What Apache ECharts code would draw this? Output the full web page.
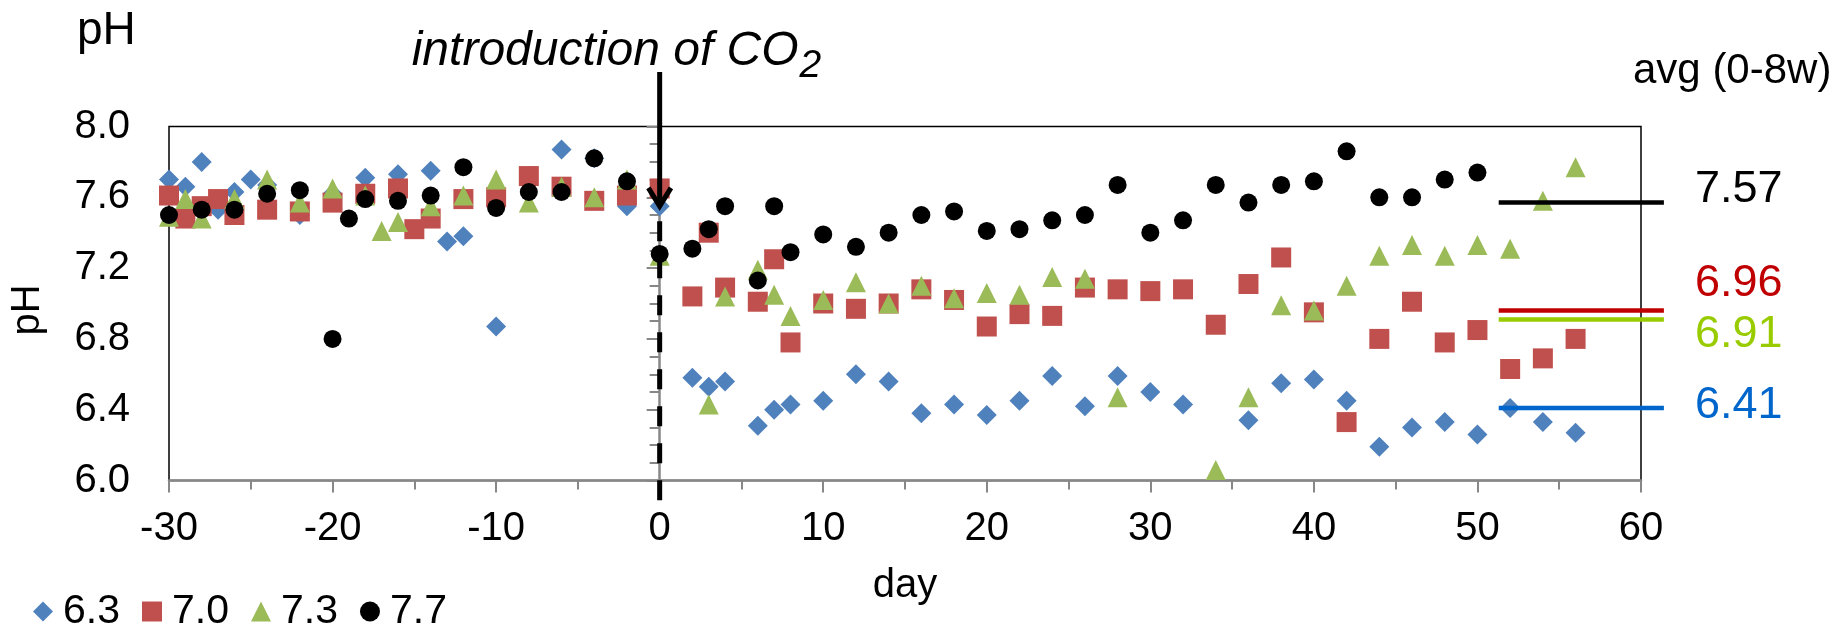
<!DOCTYPE html>
<html>
<head>
<meta charset="utf-8">
<script src="https://cdn.jsdelivr.net/npm/echarts@6/dist/echarts.min.js"></script>
<style>
  html, body { margin: 0; padding: 0; background: #fff; }
  #chart { width: 1837px; height: 625px; }
</style>
</head>
<body>
<div id="chart"></div>
<script>
// pH of the four treatments, by day relative to CO2 introduction
const names = ['6.3', '7.0', '7.3', '7.7'];

const days63 = [-30,-29,-28,-27,-26,-25,-24,-22,-20,-18,-16,-14,-13,-12,-10,-8,-6,-4,-2,0,2,3,4,6,7,8,10,12,14,16,18,20,22,24,26,28,30,32,36,38,40,42,44,46,48,50,52,54,56];
const ph63   = [7.70,7.66,7.80,7.53,7.63,7.70,7.67,7.50,7.62,7.71,7.73,7.75,7.35,7.38,6.87,7.72,7.87,7.82,7.55,7.55,6.58,6.53,6.56,6.31,6.40,6.43,6.45,6.60,6.56,6.38,6.43,6.37,6.45,6.59,6.42,6.59,6.50,6.43,6.34,6.55,6.57,6.45,6.19,6.30,6.33,6.26,6.41,6.33,6.27];

const days70 = [-30,-29,-28,-27,-26,-24,-22,-20,-18,-16,-15,-14,-12,-10,-8,-6,-4,-2,0,2,3,4,6,7,8,10,12,14,16,18,20,22,24,26,28,30,32,34,36,38,40,42,44,46,48,50,52,54,56];
const ph70   = [7.61,7.48,7.55,7.59,7.50,7.53,7.52,7.57,7.62,7.65,7.42,7.48,7.59,7.60,7.72,7.66,7.58,7.61,7.65,7.04,7.40,7.09,7.01,7.25,6.78,7.00,6.97,7.00,7.08,7.02,6.87,6.94,6.93,7.09,7.08,7.07,7.08,6.88,7.11,7.26,6.95,6.33,6.80,7.01,6.78,6.85,6.63,6.69,6.80];

const days73 = [-30,-29,-28,-26,-24,-22,-20,-18,-17,-16,-14,-12,-10,-8,-6,-4,-2,0,3,4,6,7,8,10,12,14,16,18,20,22,24,26,28,34,36,38,40,42,44,46,48,50,52,54,56];
const ph73   = [7.49,7.59,7.48,7.59,7.70,7.57,7.65,7.61,7.41,7.46,7.55,7.61,7.70,7.57,7.66,7.60,7.70,7.27,6.43,7.04,7.19,7.05,6.93,7.02,7.12,7.00,7.10,7.03,7.06,7.05,7.15,7.14,6.47,6.06,6.47,6.99,6.96,7.10,7.27,7.33,7.27,7.33,7.31,7.58,7.77];

const days77 = [-30,-28,-26,-24,-22,-20,-19,-18,-16,-14,-12,-10,-8,-6,-4,-2,0,2,3,4,6,7,8,10,12,14,16,18,20,22,24,26,28,30,32,34,36,38,40,42,44,46,48,50];
const ph77   = [7.50,7.53,7.53,7.62,7.64,6.80,7.48,7.59,7.58,7.61,7.77,7.54,7.63,7.63,7.82,7.69,7.28,7.31,7.42,7.55,7.13,7.55,7.29,7.39,7.32,7.40,7.50,7.52,7.41,7.42,7.47,7.50,7.67,7.40,7.47,7.67,7.57,7.67,7.69,7.86,7.60,7.60,7.70,7.74];

// averages over weeks 0-8
const avgValues = [6.41, 6.96, 6.91, 7.57];
const avgSpan = [51.3, 61.4];

// axis ticks
const xTicks = { min: -30, max: 60, interval: 10 };
const yTicks = { min: 6.0, max: 8.0, interval: 0.4 };

const CO2_DAY = 0;

const markerColors = ['#4F81BD', '#C0504D', '#9BBB59', '#000000'];
const markerShapes = ['diamond', 'rect', 'triangle', 'circle'];
const markerSizes  = [20, 20, 20, 18];
const avgColors    = ['#0066CC', '#C00000', '#99CC00', '#000000'];
const avgLabelDy   = [-2, -27, 15, -13];

const FONT = '"Liberation Sans", Arial, sans-serif';
const AXIS_GRAY = '#878787';

const zip = (xs, ys) => xs.map((x, i) => [x, ys[i]]);
const seriesData = [zip(days63, ph63), zip(days70, ph70), zip(days73, ph73), zip(days77, ph77)];

const chart = echarts.init(document.getElementById('chart'), null, { renderer: 'canvas' });

const scatterSeries = names.map((n, i) => ({
  name: n,
  type: 'scatter',
  data: seriesData[i],
  symbol: markerShapes[i],
  symbolSize: markerSizes[i],
  itemStyle: { color: markerColors[i], opacity: 1 },
  z: 2 + i,
  silent: true
}));

chart.setOption({
  animation: false,
  backgroundColor: '#ffffff',
  textStyle: { fontFamily: FONT },
  grid: {
    left: 169, top: 126.5, width: 1472, height: 354,
    show: true, borderColor: '#000', borderWidth: 1.5, backgroundColor: 'transparent'
  },
  legend: {
    data: names,
    left: 28, top: 586,
    itemWidth: 20, itemHeight: 20, itemGap: 22,
    textStyle: { fontFamily: FONT, fontSize: 41, color: '#000', padding: [0, 0, 0, 5] },
    selectedMode: false
  },
  xAxis: {
    type: 'value',
    min: xTicks.min, max: xTicks.max, interval: xTicks.interval,
    name: 'day', nameLocation: 'middle', nameGap: 85,
    nameTextStyle: { fontFamily: FONT, fontSize: 40, color: '#000' },
    axisLine: { show: true, onZero: false, lineStyle: { color: AXIS_GRAY, width: 2.5 } },
    axisTick: { show: true, length: 12, lineStyle: { color: AXIS_GRAY, width: 2 } },
    minorTick: { show: true, splitNumber: 2, length: 9, lineStyle: { color: AXIS_GRAY, width: 2 } },
    splitLine: { show: false },
    axisLabel: { fontFamily: FONT, fontSize: 40, color: '#000', margin: 28 }
  },
  yAxis: {
    type: 'value',
    min: yTicks.min, max: yTicks.max, interval: yTicks.interval,
    axisLine: { show: true, lineStyle: { color: AXIS_GRAY, width: 2.5 } },
    axisTick: { show: true, length: 13, lineStyle: { color: AXIS_GRAY, width: 2 } },
    minorTick: { show: true, splitNumber: 4, length: 10, lineStyle: { color: AXIS_GRAY, width: 2 } },
    splitLine: { show: false },
    axisLabel: { fontFamily: FONT, fontSize: 40, color: '#000', margin: 39, formatter: v => v.toFixed(1) }
  },
  series: scatterSeries
});

const toPx = (x, y) => chart.convertToPixel({ gridIndex: 0 }, [x, y]);

// average lines reaching past the right edge of the plot, with their values
const avgGraphics = [];
avgValues.forEach((v, i) => {
  const [xa, ya] = toPx(avgSpan[0], v);
  const xb = toPx(avgSpan[1], v)[0];
  avgGraphics.push({
    type: 'line', z: 25, silent: true,
    shape: { x1: xa, y1: ya, x2: xb, y2: ya },
    style: { stroke: avgColors[i], lineWidth: 4.5 }
  });
  avgGraphics.push({
    type: 'text', z: 25, silent: true, x: xb + 31, y: ya + avgLabelDy[i],
    style: { text: v.toFixed(2), font: '45px ' + FONT, fill: avgColors[i], align: 'left', verticalAlign: 'middle' }
  });
});

// title text with subscript placed right after the main run
const titleFont = 'italic 48px ' + FONT;
const ctx = document.createElement('canvas').getContext('2d');
ctx.font = titleFont;
const titleX = 411.7;
const titleW = ctx.measureText('introduction of CO').width;

// annotation: CO2 introduction arrow and dashed marker at day 0
const [x0, yTip] = toPx(CO2_DAY, 7.55);
const yBase = toPx(CO2_DAY, yTicks.min)[1];

chart.setOption({
  graphic: [
    { type: 'text', left: 77, top: 8, z: 20,
      style: { text: 'pH', font: '46px ' + FONT, fill: '#000' } },
    { type: 'text', x: 27.5, y: 310, rotation: Math.PI / 2, z: 20,
      style: { text: 'pH', font: '40px ' + FONT, fill: '#000', align: 'center', verticalAlign: 'middle' } },
    { type: 'text', x: titleX, y: 51.5, z: 20,
      style: { text: 'introduction of CO', font: titleFont, fill: '#000', align: 'left', verticalAlign: 'middle' } },
    { type: 'text', x: titleX + titleW + 1, y: 66, z: 20,
      style: { text: '2', font: 'italic 39px ' + FONT, fill: '#000', align: 'left', verticalAlign: 'middle' } },
    { type: 'text', x: 1633, y: 71.7, z: 20,
      style: { text: 'avg (0-8w)', font: '42px ' + FONT, fill: '#000', align: 'left', verticalAlign: 'middle' } },
    { type: 'line', z: 30, silent: true,
      shape: { x1: x0, y1: 72, x2: x0, y2: yTip },
      style: { stroke: '#000', lineWidth: 5 } },
    { type: 'polyline', z: 30, silent: true,
      shape: { points: [[x0 - 11.3, yTip - 18.3], [x0, yTip], [x0 + 11.3, yTip - 18.3]] },
      style: { stroke: '#000', lineWidth: 5, fill: null } },
    { type: 'line', z: 30, silent: true,
      shape: { x1: x0, y1: yTip + 15, x2: x0, y2: yBase + 21 },
      style: { stroke: '#000', lineWidth: 5, lineDash: [20, 17] } }
  ].concat(avgGraphics)
});
</script>
</body>
</html>
